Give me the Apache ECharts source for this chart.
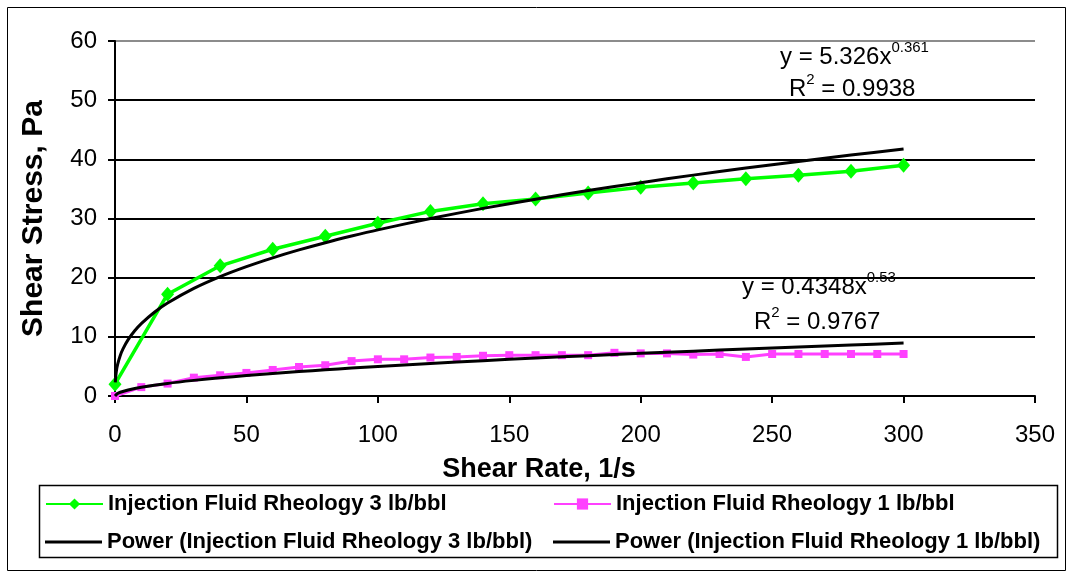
<!DOCTYPE html>
<html>
<head>
<meta charset="utf-8">
<script src="https://cdn.jsdelivr.net/npm/echarts@6/dist/echarts.min.js"></script>
<style>
  html, body { margin: 0; padding: 0; background: #fff; }
  #chart { width: 1073px; height: 578px; }
</style>
</head>
<body>
<div id="chart"></div>
<script>
// Shear rate (1/s) and measured shear stress (Pa), 3 lb/bbl fluid
const rate3 = [0, 20, 40, 60, 80, 100, 120, 140, 160, 180, 200, 220, 240, 260, 280, 300];
const stress3 = [2.0, 17.2, 22.0, 24.8, 27.0, 29.2, 31.2, 32.5, 33.3, 34.3, 35.3, 36.0, 36.7, 37.3, 38.0, 39.0];

// Shear rate (1/s) and measured shear stress (Pa), 1 lb/bbl fluid
const rate1 = [0, 10, 20, 30, 40, 50, 60, 70, 80, 90, 100, 110, 120, 130, 140, 150,
               160, 170, 180, 190, 200, 210, 220, 230, 240, 250, 260, 270, 280, 290, 300];
const stress1 = [0.0, 1.5, 2.1, 3.1, 3.5, 3.9, 4.4, 4.9, 5.2, 5.9, 6.2, 6.2, 6.5, 6.6, 6.8, 6.9,
                 6.9, 6.9, 6.9, 7.3, 7.2, 7.2, 7.0, 7.1, 6.6, 7.1, 7.1, 7.1, 7.1, 7.1, 7.1];

// Power-law trend curves (y = 5.326x^0.361 and y = 0.4348x^0.53), sampled
const fitRate3 = [0.1, 0.5, 1, 2, 3, 5, 7.5, 10, 15, 20, 30, 40, 50, 60, 70, 80, 90, 100,
                  120, 140, 160, 180, 200, 220, 240, 260, 280, 300];
const fitStress3 = [2.32, 4.15, 5.33, 6.84, 7.92, 9.52, 11.02, 12.23, 14.16, 15.71, 18.18, 20.17,
                    21.86, 23.35, 24.69, 25.91, 27.03, 28.08, 29.99, 31.71, 33.27, 34.72, 36.06,
                    37.33, 38.52, 39.65, 40.72, 41.75];
const fitRate1 = [0, 1, 2, 5, 10, 20, 30, 40, 50, 60, 70, 80, 90, 100,
                  120, 140, 160, 180, 200, 220, 240, 260, 280, 300];
const fitStress1 = [0.0, 0.43, 0.63, 1.02, 1.47, 2.13, 2.64, 3.07, 3.46, 3.81, 4.13, 4.44, 4.72, 4.99,
                    5.50, 5.97, 6.41, 6.82, 7.21, 7.58, 7.94, 8.29, 8.62, 8.94];

// Axis ticks
const xTicks = { min: 0, max: 350, step: 50 };
const yTicks = { min: 0, max: 60, step: 10 };

// Series names
const names = [
  'Injection Fluid Rheology 3 lb/bbl',
  'Injection Fluid Rheology 1 lb/bbl',
  'Power (Injection Fluid Rheology 3 lb/bbl)',
  'Power (Injection Fluid Rheology 1 lb/bbl)'
];

const zip = (xs, ys) => xs.map((x, i) => [x, ys[i]]);
const FONT = '"Liberation Sans", Arial, sans-serif';

const chart = echarts.init(document.getElementById('chart'), null, { renderer: 'canvas' });

const legendText = { fontFamily: FONT, fontWeight: 'bold', fontSize: 22, color: '#000' };
// legend entry showing the series' own line + marker
const legendMarker = (name, left, top) => ({
  data: [name], left: left, top: top, padding: 0,
  itemWidth: 57, itemHeight: 14, selectedMode: false, textStyle: legendText
});
// legend entry showing a plain line
const legendLine = (name, left, top) => ({
  data: [{ name: name, icon: 'path://M0,0H57V3H0Z' }], left: left, top: top, padding: 0,
  itemWidth: 57, itemHeight: 3, selectedMode: false, textStyle: legendText
});

const eqRich = {
  a: { fontFamily: FONT, fontSize: 24, lineHeight: 34, color: '#000', verticalAlign: 'middle' },
  s: { fontFamily: FONT, fontSize: 15, lineHeight: 11, color: '#000', verticalAlign: 'top' }
};
const eqText = (x, y, text) => ({
  type: 'text', x: x, y: y, z: 100,
  style: { text: text, rich: eqRich, fill: '#000' }
});

chart.setOption({
  animation: false,
  backgroundColor: '#fff',
  grid: { left: 115, top: 41, right: 38, bottom: 182, containLabel: false },
  xAxis: {
    type: 'value',
    min: xTicks.min, max: xTicks.max, interval: xTicks.step,
    name: 'Shear Rate, 1/s',
    nameLocation: 'middle',
    nameGap: 60,
    nameTextStyle: { fontFamily: FONT, fontWeight: 'bold', fontSize: 27, color: '#000', padding: [0, 72, 0, 0] },
    axisLine: { show: true, onZero: false, lineStyle: { color: '#000', width: 2 } },
    axisTick: { show: true, inside: false, length: 7, lineStyle: { color: '#000', width: 2 } },
    axisLabel: { fontFamily: FONT, fontSize: 24, color: '#000', margin: 27 },
    splitLine: { show: false }
  },
  yAxis: {
    type: 'value',
    min: yTicks.min, max: yTicks.max, interval: yTicks.step,
    name: 'Shear Stress, Pa',
    nameLocation: 'middle',
    nameGap: 66,
    nameTextStyle: { fontFamily: FONT, fontWeight: 'bold', fontSize: 30, color: '#000' },
    axisLine: { show: true, lineStyle: { color: '#000', width: 2 } },
    axisTick: { show: true, inside: false, length: 7, lineStyle: { color: '#000', width: 2 } },
    axisLabel: { fontFamily: FONT, fontSize: 24, color: '#000', margin: 18 },
    splitLine: {
      show: true,
      lineStyle: { color: ['#000', '#000', '#000', '#000', '#000', '#000', '#8c8c8c'], width: 2 }
    }
  },
  legend: [
    legendMarker(names[0], 45, 493),
    legendMarker(names[1], 553, 493),
    legendLine(names[2], 45, 531),
    legendLine(names[3], 553, 531)
  ],
  series: [
    {
      name: names[0], type: 'line', data: zip(rate3, stress3),
      symbol: 'diamond', symbolSize: [13, 15],
      itemStyle: { color: '#00ff00' },
      lineStyle: { color: '#00ff00', width: 3.5 },
      z: 2
    },
    {
      name: names[1], type: 'line', data: zip(rate1, stress1),
      symbol: 'rect', symbolSize: 8,
      itemStyle: { color: '#ff40ff' },
      lineStyle: { color: '#ff40ff', width: 3 },
      z: 2
    },
    {
      name: names[2], type: 'line', data: zip(fitRate3, fitStress3),
      symbol: 'none', smooth: 0.3,
      itemStyle: { color: '#000' },
      lineStyle: { color: '#000', width: 3 },
      z: 3
    },
    {
      name: names[3], type: 'line', data: zip(fitRate1, fitStress1),
      symbol: 'none', smooth: 0.3,
      itemStyle: { color: '#000' },
      lineStyle: { color: '#000', width: 3 },
      z: 3
    }
  ],
  graphic: [
    // outer chart frame
    { type: 'rect', shape: { x: 7.5, y: 7.5, width: 1058, height: 563 },
      style: { fill: null, stroke: '#000', lineWidth: 1 }, z: 0 },
    // legend frame
    { type: 'rect', shape: { x: 39.5, y: 485.5, width: 1018, height: 72 },
      style: { fill: null, stroke: '#000', lineWidth: 1.5 }, z: 0 },
    eqText(780, 40, '{a|y = 5.326x}{s|0.361}'),
    eqText(789, 72, '{a|R}{s|2}{a| = 0.9938}'),
    eqText(742, 270, '{a|y = 0.4348x}{s|0.53}'),
    eqText(754, 305, '{a|R}{s|2}{a| = 0.9767}')
  ]
});
</script>
</body>
</html>
